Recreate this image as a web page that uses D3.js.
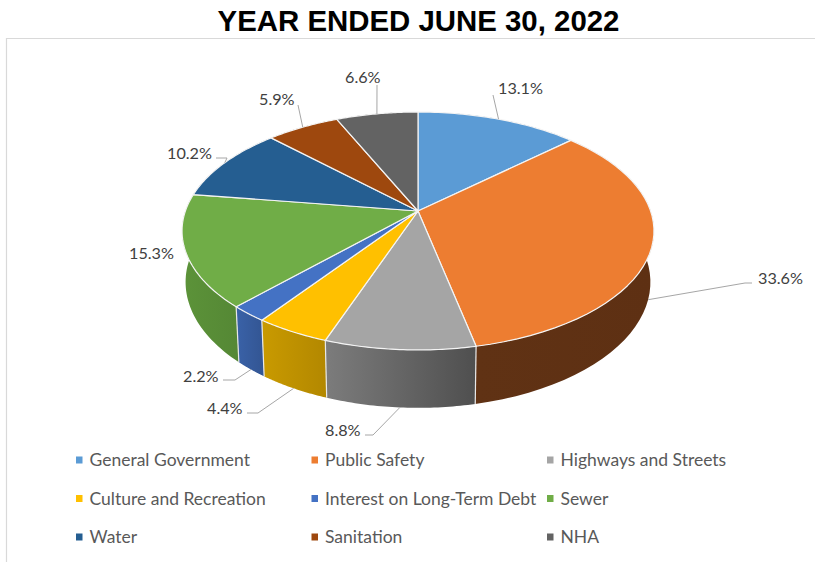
<!DOCTYPE html>
<html>
<head>
<meta charset="utf-8">
<style>
html,body{margin:0;padding:0;background:#fff}
svg{display:block}
</style>
<script src="https://cdn.jsdelivr.net/npm/d3@7"></script>
</head>
<body>
<svg id="chart" width="815" height="562"></svg>
<script>
// Expense shares by function
const chartTitle = "YEAR ENDED JUNE 30, 2022";
const categories = ["General Government","Public Safety","Highways and Streets","Culture and Recreation","Interest on Long-Term Debt","Sewer","Water","Sanitation","NHA"];
const shares = [13.1,33.6,8.8,4.4,2.2,15.3,10.2,5.9,6.6];
const topColors = ["#5b9bd5","#ed7d31","#a5a5a5","#ffc000","#4472c4","#70ad47","#255e91","#9e480e","#636363"];
const wallFrom = ["#4a80b0","#603214","#7c7c7c","#c99a00","#3a62a8","#5c9339","#1f4d78","#7f3a0b","#555555"];
const wallTo = ["#3f6f9b","#5e3013","#4f4f4f","#b38800","#335694","#558835","#1a4266","#6e320a","#4a4a4a"];

// Label placement: text start, text baseline, optional elbow and tail, and where on the wall the leader lands (0 = rim, 1 = base)
const labelText = [[498,94],[758,284],[325,436],[207,414],[183,382],[129,259],[167,159],[259,105],[345,83]];
const labelElbow = [[493,95],[745,283],[373,435],[258,413],[235,380],null,[227,158],[298,105],[377,85]];
const labelTail = [null,[752,283],[365,435],[247,413],[223,380],null,[216,158],null,null];
const labelDepth = [0,1,1,1,1,0,0,0,0];

const legendColumns = d3.scalePoint().domain([0,1,2]).range([75,546]);
const legendRows = d3.scalePoint().domain([0,1,2]).range([460,537]);

const svg = d3.select("#chart");

// Perspective projection of the unit disc: the disc centre lands on the apex,
// near edge is magnified, far edge is foreshortened. Wall height follows the same magnification.
const apex = {x:418, y:211};
const radiusX = 232.6, radiusY = 115.6, tilt = 0.168;
const wallShrink = 0.985, wallDrop = 60;

function project(angle, depth = 0) {
  const u = Math.sin(angle), v = -Math.cos(angle);
  const w = 1 - tilt * v;
  const s = 1 - (1 - wallShrink) * depth;
  const drop = wallDrop * (1 - tilt) / w;
  return [apex.x + s * radiusX * u / w, apex.y + s * radiusY * v / w + drop * depth];
}

const arcs = d3.pie().sort(null).value(d => d)(shares);
const line = d3.line();
const samples = a => d3.range(0, 41).map(i => a.startAngle + (a.endAngle - a.startAngle) * i / 40);

// Panel frame
svg.append("path").attr("d", "M6.5,562V38.5H815").attr("fill", "none").attr("stroke", "#d9d9d9").attr("stroke-width", 1.2);

svg.append("text").attr("x", 418.5).attr("y", 31).attr("text-anchor", "middle")
  .attr("font-family", "Liberation Sans").attr("font-weight", 700).attr("font-size", 29.4).attr("fill", "#000")
  .text(chartTitle);

// Horizontal shading for each wall
const defs = svg.append("defs");
arcs.forEach((a, i) => {
  const xs = samples(a).map(t => project(t)[0]);
  const g = defs.append("linearGradient").attr("id", "wall" + i).attr("gradientUnits", "userSpaceOnUse")
    .attr("x1", d3.min(xs)).attr("x2", d3.max(xs)).attr("y1", 0).attr("y2", 0);
  g.append("stop").attr("offset", 0).attr("stop-color", wallFrom[i]);
  g.append("stop").attr("offset", 1).attr("stop-color", wallTo[i]);
});

// Side walls, base of the drum first
svg.append("g").selectAll("path").data(arcs).join("path")
  .attr("d", a => {
    const ts = samples(a);
    return line(ts.map(t => project(t)).concat(ts.slice().reverse().map(t => project(t, 1)))) + "Z";
  })
  .attr("fill", (a, i) => `url(#wall${i})`);

// Thin white seams between the walls of the visible front slices
svg.append("g").selectAll("line").data(arcs).join("line")
  .filter(a => project(a.startAngle)[1] > 240)
  .attr("x1", a => project(a.startAngle)[0]).attr("y1", a => project(a.startAngle)[1])
  .attr("x2", a => project(a.startAngle, 1)[0]).attr("y2", a => project(a.startAngle, 1)[1])
  .attr("stroke", "#e8e8e8").attr("stroke-width", 1.2);

// Top face of the pie
svg.append("g").selectAll("path").data(arcs).join("path")
  .attr("d", a => line([[apex.x, apex.y]].concat(samples(a).map(t => project(t)))) + "Z")
  .attr("fill", (a, i) => topColors[i])
  .attr("stroke", "#f4f4f4").attr("stroke-width", 1.2).attr("stroke-linejoin", "round");

// Leader lines and percentage labels
const leaders = svg.append("g").attr("fill", "none").attr("stroke", "#a6a6a6").attr("stroke-width", 1);
arcs.forEach((a, i) => {
  if (!labelElbow[i]) return;
  const mid = (a.startAngle + a.endAngle) / 2;
  const pts = [project(mid, labelDepth[i]), labelElbow[i]];
  if (labelTail[i]) pts.push(labelTail[i]);
  leaders.append("path").attr("d", line(pts));
});

svg.append("g").selectAll("text").data(shares).join("text")
  .attr("x", (d, i) => labelText[i][0]).attr("y", (d, i) => labelText[i][1])
  .attr("font-family", "Lato").attr("font-size", 16.2).attr("fill", "#404040")
  .text(d => d.toFixed(1) + "%");

// Legend: three rows of three
const legend = svg.append("g").selectAll("g").data(categories).join("g")
  .attr("transform", (d, i) => `translate(${legendColumns(i % 3)},${legendRows(Math.floor(i / 3))})`);
legend.append("rect").attr("x", 1).attr("y", -3.5).attr("width", 6.5).attr("height", 7).attr("fill", (d, i) => topColors[i]);
legend.append("text").attr("x", 14.5).attr("y", 6)
  .attr("font-family", "Lato").attr("font-size", 17.5).attr("fill", "#595959")
  .text(d => d);
</script>
</body>
</html>
